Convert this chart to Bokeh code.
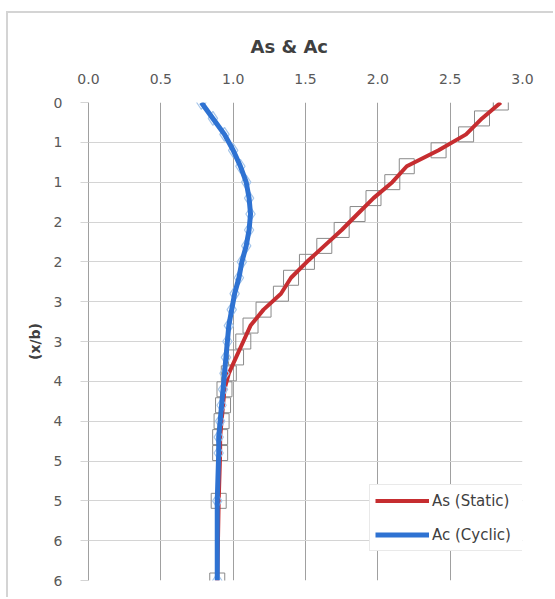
from bokeh.plotting import figure
from bokeh.models import Range1d, FixedTicker, Legend, LegendItem
from bokeh.embed import file_html
from bokeh.resources import INLINE

# ---- data ----
depth_static = [0.0, 0.2, 0.4, 0.6, 0.8, 1.0, 1.2, 1.4, 1.6, 1.8, 2.0, 2.2, 2.4,
                2.6, 2.8, 3.0, 3.2, 3.4, 3.6, 3.8, 4.0, 4.2, 4.4, 5.0, 6.0]
as_static = [2.85, 2.72, 2.61, 2.42, 2.20, 2.10, 1.97, 1.86, 1.75, 1.63, 1.51, 1.40, 1.33,
             1.21, 1.12, 1.07, 1.02, 0.97, 0.94, 0.93, 0.92, 0.91, 0.91, 0.90, 0.89]

depth_cyclic = [0.0, 0.2, 0.4, 0.6, 0.8, 1.0, 1.2, 1.4, 1.6, 1.8, 2.0, 2.2, 2.4,
                2.6, 2.8, 3.0, 3.2, 3.4, 3.6, 3.8, 4.0, 4.2, 4.4, 5.0, 6.0]
ac_cyclic = [0.78, 0.86, 0.94, 1.00, 1.05, 1.09, 1.11, 1.12, 1.11, 1.09, 1.06, 1.04, 1.01,
             0.99, 0.97, 0.96, 0.95, 0.94, 0.93, 0.92, 0.91, 0.90, 0.90, 0.89, 0.89]

x_ticks = [0.0, 0.5, 1.0, 1.5, 2.0, 2.5, 3.0]
x_tick_labels = ["0.0", "0.5", "1.0", "1.5", "2.0", "2.5", "3.0"]
y_ticks = [0.0, 0.5, 1.0, 1.5, 2.0, 2.5, 3.0, 3.5, 4.0, 4.5, 5.0, 5.5, 6.0]
y_tick_labels = ["0", "1", "1", "2", "2", "3", "3", "4", "4", "5", "5", "6", "6"]

chart_title = "As & Ac"
y_title = "(x/b)"
series_names = ["As (Static)", "Ac (Cyclic)"]

FONT = "DejaVu Sans"

p = figure(width=547, height=586,
           x_range=Range1d(0, 3), y_range=Range1d(6, 0),
           x_axis_location="above",
           output_backend="svg", toolbar_location=None,
           min_border_left=80, min_border_right=33,
           min_border_top=89, min_border_bottom=19,
           title=chart_title)
p.margin = (11, 0, 0, 6)
p.styles = {"border-left": "2px solid #d4d4d4", "border-top": "2px solid #d4d4d4"}

p.outline_line_color = None
p.background_fill_color = "white"
p.border_fill_color = "white"

# title
p.title.text_font = FONT
p.title.text_font_size = "18px"
p.title.text_font_style = "bold"
p.title.text_color = "#404040"
p.title.align = "left"
p.title.offset = 162
p.title.standoff = 27

# x axis (top)
xa = p.xaxis[0]
xa.ticker = FixedTicker(ticks=x_ticks)
xa.major_label_overrides = dict(zip(x_ticks, x_tick_labels))
xa.axis_line_color = None
xa.major_tick_line_color = None
xa.minor_tick_line_color = None
xa.major_label_text_font = FONT
xa.major_label_text_font_size = "14px"
xa.major_label_text_color = "#595959"
xa.major_label_standoff = 13

# y axis
ya = p.yaxis[0]
ya.ticker = FixedTicker(ticks=y_ticks)
ya.major_label_overrides = dict(zip(y_ticks, y_tick_labels))
ya.axis_line_color = "#a0a0a0"
ya.major_tick_line_color = "#d4d4d4"
ya.major_tick_out = 8
ya.major_tick_in = 0
ya.minor_tick_line_color = None
ya.major_label_text_font = FONT
ya.major_label_text_font_size = "14px"
ya.major_label_text_color = "#595959"
ya.major_label_standoff = 18
ya.axis_label = y_title
ya.axis_label_text_font = FONT
ya.axis_label_text_font_size = "14px"
ya.axis_label_text_font_style = "bold"
ya.axis_label_text_color = "#404040"
ya.axis_label_standoff = 8

# grids
p.xgrid.ticker = FixedTicker(ticks=x_ticks)
p.xgrid.grid_line_color = "#a0a0a0"
p.ygrid.ticker = FixedTicker(ticks=y_ticks)
p.ygrid.grid_line_color = "#d4d4d4"

# series
red = "#c62d30"
blue = "#2e72d2"
r_mark = p.scatter(as_static, depth_static, marker="square", size=15,
                   fill_color=None, line_color="#8a8a8a", line_width=1)
r_line = p.line(as_static, depth_static, line_color=red, line_width=4)
b_mark = p.scatter(ac_cyclic, depth_cyclic, marker="diamond", size=14,
                   fill_color=None, line_color="#a6c6ea", line_width=1.2)
b_line = p.line(ac_cyclic, depth_cyclic, line_color=blue, line_width=5)

legend = Legend(items=[LegendItem(label=series_names[0], renderers=[r_line]),
                       LegendItem(label=series_names[1], renderers=[b_line])],
                location=(281, 29))
legend.label_text_font = FONT
legend.label_text_font_size = "15px"
legend.label_text_color = "#404040"
legend.glyph_width = 54
legend.glyph_height = 21
legend.label_height = 21
legend.label_width = 125
legend.label_standoff = 3
legend.spacing = 13
legend.padding = 5
legend.margin = 0
legend.border_line_color = "#d4d4d4"
legend.background_fill_color = "white"
legend.background_fill_alpha = 1.0
p.add_layout(legend)

open("out.html", "w").write(file_html(p, INLINE))
